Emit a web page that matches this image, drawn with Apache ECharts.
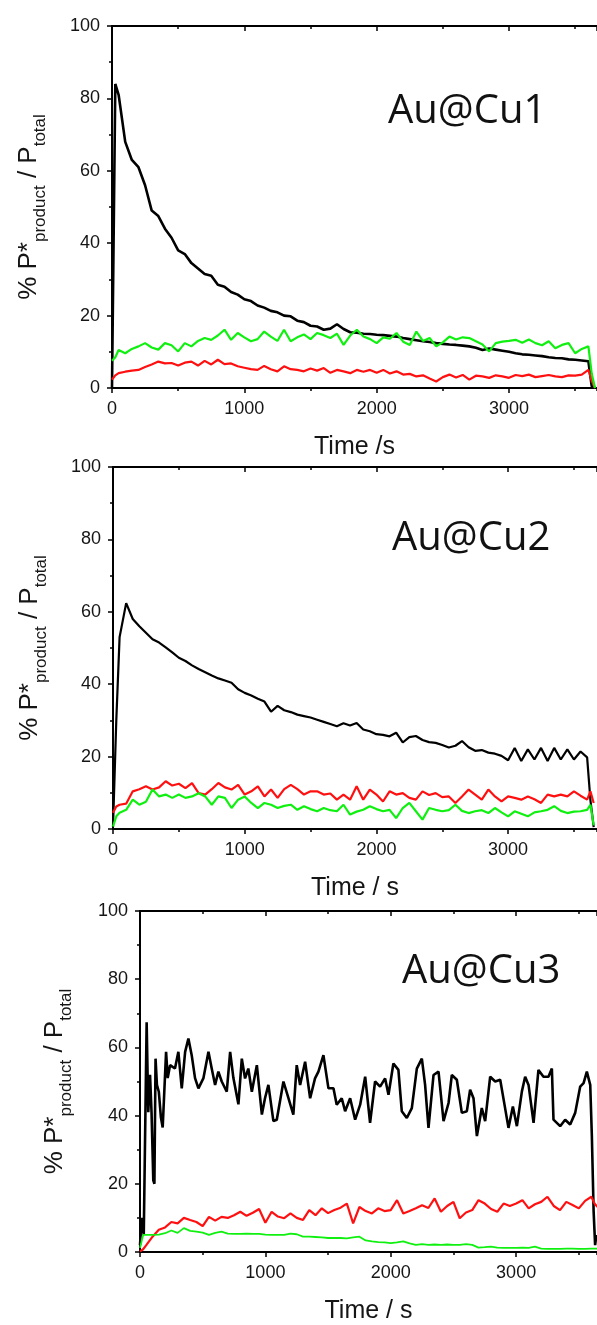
<!DOCTYPE html>
<html>
<head>
<meta charset="utf-8">
<script src="https://cdn.jsdelivr.net/npm/echarts@6/dist/echarts.min.js"></script>
<style>
  html, body { margin: 0; padding: 0; background: #fff; }
  #chart { width: 597px; height: 1325px; }
</style>
</head>
<body>
<div id="chart"></div>
<script>
// ---------- DATA ----------
// common time grid (s)
const time = [0, 25, 50, 100, 150, 200, 250, 300, 350, 400,
  450, 500, 550, 600, 650, 700, 750, 800, 850, 900,
  950, 1000, 1050, 1100, 1150, 1200, 1250, 1300, 1350, 1400,
  1450, 1500, 1550, 1600, 1650, 1700, 1750, 1800, 1850, 1900,
  1950, 2000, 2050, 2100, 2150, 2200, 2250, 2300, 2350, 2400,
  2450, 2500, 2550, 2600, 2650, 2700, 2750, 2800, 2850, 2900,
  2950, 3000, 3050, 3100, 3150, 3200, 3250, 3300, 3350, 3400,
  3450, 3500, 3550, 3600, 3625, 3650];

// Au@Cu1
const cu1Black = [0, 84, 81, 68, 63, 61, 56, 49, 47.5, 44,
  41.5, 38, 37, 34.5, 33, 31.5, 31, 28.5, 28, 26.5,
  25.8, 24.5, 24, 22.8, 22.2, 21.3, 20.9, 20, 19.8, 18.6,
  18.2, 17.2, 17.0, 16.1, 16.4, 17.6, 16.3, 15.4, 15.3, 15.0,
  14.9, 14.7, 14.6, 14.4, 14.2, 13.8, 13.5, 13.2, 12.9, 12.7,
  12.4, 12.2, 12.0, 11.9, 11.7, 11.5, 11.1, 10.5, 10.9, 10.6,
  10.3, 10.0, 9.6, 9.3, 9.2, 9.0, 8.8, 8.5, 8.3, 8.2,
  7.9, 7.8, 7.6, 7.4, 0.5, 0];
const cu1Green = [7.5, 8.5, 10.5, 9.6, 10.8, 11.5, 12.4, 11.2, 10.6, 12.4,
  11.8, 10.1, 12.4, 11.5, 13.0, 13.8, 13.3, 14.5, 16.1, 13.3,
  15.2, 14.0, 12.9, 13.5, 15.6, 14.2, 13.0, 16.1, 12.9, 14.0,
  14.8, 13.5, 15.2, 14.6, 13.8, 15.0, 11.9, 14.5, 16.1, 14.2,
  13.5, 12.4, 14.0, 13.6, 15.2, 12.8, 11.9, 15.6, 13.0, 13.8,
  11.5, 12.6, 14.2, 13.4, 14.0, 13.8, 12.9, 12.0, 10.1, 12.4,
  12.8, 13.0, 13.3, 12.5, 13.4, 12.4, 11.8, 12.9, 11.0, 11.9,
  12.4, 9.6, 10.8, 11.5, 4, 0];
const cu1Red = [2.3, 3.5, 4.1, 4.5, 4.8, 5.0, 5.8, 6.5, 7.3, 6.8,
  6.9, 6.2, 7.0, 7.3, 6.2, 7.5, 6.5, 7.8, 6.6, 6.8,
  6.0, 5.6, 5.2, 5.0, 6.1, 5.2, 4.6, 6.0, 5.2, 5.0,
  4.6, 5.4, 4.8, 5.5, 4.2, 5.0, 4.6, 4.1, 5.0, 4.5,
  5.0, 4.2, 5.0, 4.0, 4.6, 3.7, 3.9, 3.2, 3.5, 2.6,
  1.8, 3.0, 3.7, 2.9, 3.6, 2.3, 3.4, 3.2, 2.8, 3.5,
  3.2, 2.8, 3.6, 3.3, 3.7, 3.0, 3.3, 3.6, 3.2, 3.0,
  3.5, 3.4, 3.7, 5.0, 2, 0];

// Au@Cu2
const cu2Black = [0.5, 30, 53, 62.4, 58, 56, 54.2, 52.4, 51.5, 50.2,
  48.8, 47.3, 46.4, 45.2, 44.2, 43.3, 42.4, 41.6, 41.0, 40.4,
  38.6, 37.6, 36.9, 36.0, 35.2, 32.4, 34.0, 32.8, 32.3, 31.6,
  31.2, 30.8, 30.2, 29.6, 29.0, 28.4, 29.2, 28.6, 29.3, 27.5,
  27.0, 26.2, 26.0, 25.6, 26.6, 23.9, 25.4, 25.7, 24.6, 24.0,
  23.8, 23.2, 22.5, 23.0, 24.3, 22.6, 21.6, 21.8, 21.1, 20.8,
  20.2, 19.0, 22.4, 18.8, 22.0, 19.2, 22.4, 18.8, 22.4, 19.2,
  22.0, 19.2, 21.4, 19.8, 8, 0.5];
const cu2Red = [4.5, 6.2, 6.7, 7.0, 10.4, 11.0, 11.8, 10.9, 11.5, 13.2,
  12.0, 12.5, 11.3, 12.7, 9.9, 9.5, 11.0, 12.7, 11.5, 10.9,
  12.2, 9.5, 10.4, 11.8, 9.0, 10.9, 8.6, 11.0, 12.2, 11.0,
  9.5, 10.4, 10.4, 9.5, 9.8, 8.1, 9.5, 8.1, 11.8, 8.1,
  10.9, 9.5, 7.6, 10.4, 9.5, 9.9, 8.6, 8.1, 10.4, 9.4,
  9.9, 8.8, 9.0, 7.2, 9.0, 10.9, 9.5, 8.1, 10.9, 9.0,
  7.6, 9.0, 8.6, 8.1, 9.0, 8.2, 7.2, 9.5, 9.0, 9.5,
  9.0, 10.4, 9.2, 8.1, 10.4, 7.2];
const cu2Green = [0.7, 3.5, 4.5, 5.3, 8.1, 6.7, 7.5, 10.9, 9.0, 9.5,
  8.6, 9.5, 8.6, 9.0, 9.9, 9.0, 6.7, 9.0, 8.6, 5.8,
  8.1, 9.0, 7.2, 5.8, 7.2, 6.7, 5.8, 6.4, 6.7, 5.3,
  6.3, 5.5, 4.9, 5.8, 5.2, 4.9, 6.7, 4.0, 4.8, 5.3,
  6.3, 5.5, 4.9, 5.3, 3.0, 5.8, 7.2, 4.9, 2.6, 5.8,
  5.3, 4.9, 5.2, 6.7, 5.0, 4.4, 4.9, 5.2, 4.4, 5.8,
  4.6, 3.5, 4.9, 4.2, 3.5, 4.6, 4.9, 5.3, 6.3, 5.0,
  4.4, 4.8, 4.9, 5.3, 6.7, 1.0];

// Au@Cu3
const cu3BlackTime = [0, 14, 30, 53, 66, 80, 92, 106, 115, 124,
  135, 150, 167, 181, 208, 221, 240, 279, 306, 333,
  360, 386, 412, 439, 466, 506, 546, 572, 599, 625,
  652, 692, 719, 745, 785, 812, 838, 864, 892, 932,
  972, 997, 1024, 1064, 1091, 1144, 1184, 1223, 1250, 1277,
  1317, 1357, 1396, 1423, 1463, 1503, 1543, 1569, 1609, 1636,
  1676, 1716, 1756, 1796, 1835, 1875, 1915, 1955, 1982, 2021,
  2061, 2088, 2128, 2168, 2208, 2248, 2274, 2301, 2341, 2381,
  2421, 2461, 2487, 2527, 2567, 2607, 2633, 2660, 2687, 2726,
  2753, 2793, 2833, 2873, 2912, 2939, 2974, 3006, 3046, 3072,
  3099, 3139, 3178, 3218, 3258, 3285, 3298, 3351, 3391, 3431,
  3471, 3511, 3538, 3564, 3591, 3604, 3618, 3630, 3640];
const cu3BlackVal = [2, 10, 5, 67.4, 41, 52, 41, 21, 20, 56.7,
  49, 47, 39.4, 36.5, 58.7, 51, 54.8, 53.8, 58.7, 48,
  58.7, 62.6, 57.8, 51, 48, 51, 58.7, 53.8, 49, 52.9,
  50, 47, 58.7, 51, 43.3, 56.7, 50.9, 53.8, 47, 54.8,
  40.3, 45.1, 49, 38.4, 38.8, 50, 45.1, 40.3, 54.8, 49,
  55.8, 45.1, 50.9, 52.9, 57.7, 48, 48, 43.2, 45.1, 41.3,
  45.1, 38.8, 43.2, 51.4, 37.9, 50, 48.5, 50.9, 46.1, 55.3,
  53.4, 41.3, 39.3, 42.2, 53.8, 56.7, 49, 36.4, 51.9, 52.9,
  38.4, 43.7, 51.9, 50.5, 40.8, 41.3, 47.6, 45.1, 34, 42.2,
  38.4, 51.4, 50, 50.5, 42.2, 36.4, 42.7, 36.9, 47.1, 51.4,
  49, 37.9, 53.4, 51.4, 51.4, 53.8, 38.8, 36.9, 38.8, 37.4,
  40.8, 48.5, 49.5, 52.9, 49, 34, 12, 2, 5];
const cu3Red = [0.2, 0.8, 2.0, 4.5, 6.5, 7.2, 8.8, 8.4, 10.0, 9.4,
  8.8, 7.6, 10.3, 9.2, 10.3, 10.0, 10.8, 11.8, 10.6, 11.5,
  12.6, 8.6, 11.8, 10.4, 9.9, 11.3, 10.0, 9.4, 12.3, 10.8,
  12.8, 11.4, 12.3, 13.0, 14.2, 8.4, 13.2, 12.0, 11.3, 12.8,
  12.0, 12.3, 15.2, 11.3, 12.0, 12.8, 13.7, 12.9, 15.7, 11.8,
  13.5, 14.7, 9.9, 11.6, 12.3, 15.2, 14.2, 12.6, 11.8, 14.2,
  13.5, 14.2, 15.2, 12.8, 14.0, 14.7, 16.2, 13.5, 12.3, 14.7,
  13.8, 12.8, 15.0, 16.2, 14.2, 13.2];
const cu3Green = [1.2, 5.0, 5.0, 5.0, 5.1, 5.5, 6.3, 5.6, 7.0, 6.2,
  6.0, 5.7, 5.0, 5.6, 6.0, 5.4, 5.3, 5.3, 5.4, 5.3,
  5.3, 5.1, 5.0, 5.0, 5.0, 5.4, 5.2, 4.5, 4.5, 4.4,
  4.3, 4.1, 4.1, 4.1, 4.0, 4.3, 4.5, 3.4, 3.1, 2.9,
  2.8, 2.6, 2.8, 3.1, 2.5, 2.1, 2.3, 2.1, 2.2, 2.1,
  2.2, 2.1, 2.1, 2.3, 2.1, 1.3, 1.4, 1.6, 1.3, 1.2,
  1.2, 1.2, 1.3, 1.2, 1.6, 1.0, 0.9, 0.9, 0.9, 1.0,
  1.0, 0.9, 0.9, 1.0, 1.0, 1.0];

const panelTitles = ['Au@Cu1', 'Au@Cu2', 'Au@Cu3'];
const xAxisTitles = ['Time /s', 'Time / s', 'Time / s'];
const yAxisTitle = '{m|% P*}{s|product}{m| / P}{s|total}';
const xMaxes = [3665, 3675, 3645];

// ---------- LAYOUT ----------
const grids = [
  { left: 112, top: 26, width: 486, height: 362 },
  { left: 113, top: 467, width: 485, height: 362 },
  { left: 140, top: 911, width: 458, height: 345 }
];
const titlePos = [[388, 92], [392, 519], [402, 952]];
const yNameGap = [66, 66, 68];

const FONT = '"Liberation Sans", Arial, sans-serif';
const TXT = '#151515';

const pair = (xs, ys) => xs.map((t, i) => [t, ys[i]]);
const panelSeries = [
  [[time, cu1Black, '#000000', 2.6], [time, cu1Red, '#ff1010', 2.2], [time, cu1Green, '#10f010', 2.2]],
  [[time, cu2Black, '#000000', 2.2], [time, cu2Red, '#ff1010', 2.2], [time, cu2Green, '#10f010', 2.2]],
  [[cu3BlackTime, cu3BlackVal, '#000000', 2.6], [time, cu3Red, '#ff1010', 2.2], [time, cu3Green, '#10f010', 1.8]]
];

const xAxes = [], yAxes = [], series = [], graphics = [];
grids.forEach((g, gi) => {
  const base = { type: 'value', gridIndex: gi, min: 0, max: xMaxes[gi], splitLine: { show: false } };
  const lineStyle = { color: '#000', width: 2 };
  // bottom major
  xAxes.push(Object.assign({}, base, {
    position: 'bottom', interval: 1000,
    axisLine: { show: true, lineStyle },
    axisTick: { show: true, inside: false, length: 5, lineStyle: { width: 1.5, color: '#000' } },
    axisLabel: { show: true, showMaxLabel: false, margin: 12, fontSize: 18, fontFamily: FONT, color: TXT,
      formatter: v => String(v) },
    name: xAxisTitles[gi], nameLocation: 'middle', nameGap: 47,
    nameTextStyle: { fontSize: 25, fontFamily: FONT, color: TXT }
  }));
  // bottom minor
  xAxes.push(Object.assign({}, base, {
    position: 'bottom', interval: 500,
    axisLine: { show: false },
    axisTick: { show: true, inside: false, length: 3, lineStyle: { width: 1.5, color: '#000' } },
    axisLabel: { show: false }
  }));
  // top major
  xAxes.push(Object.assign({}, base, {
    position: 'top', interval: 1000,
    axisLine: { show: true, lineStyle },
    axisTick: { show: true, inside: true, length: 5, lineStyle: { width: 1.5, color: '#000' } },
    axisLabel: { show: false }
  }));
  // top minor
  xAxes.push(Object.assign({}, base, {
    position: 'top', interval: 500,
    axisLine: { show: false },
    axisTick: { show: true, inside: true, length: 3, lineStyle: { width: 1.5, color: '#000' } },
    axisLabel: { show: false }
  }));
  const ybase = { type: 'value', gridIndex: gi, min: 0, max: 100, interval: 20, splitLine: { show: false } };
  yAxes.push(Object.assign({}, ybase, {
    position: 'left',
    axisLine: { show: true, lineStyle },
    axisTick: { show: true, inside: false, length: 5, lineStyle: { width: 1.5, color: '#000' } },
    minorTick: { show: true, splitNumber: 2, length: 3, lineStyle: { width: 1.5, color: '#000' } },
    axisLabel: { show: true, margin: 12, fontSize: 18, fontFamily: FONT, color: TXT },
    name: yAxisTitle, nameLocation: 'middle', nameGap: yNameGap[gi], nameRotate: 90,
    nameTextStyle: {
      color: TXT,
      rich: {
        m: { fontSize: 26, fontFamily: FONT, color: TXT, lineHeight: 30, verticalAlign: 'top' },
        s: { fontSize: 17, fontFamily: FONT, color: TXT, lineHeight: 17, padding: [16, 0, 0, 0], verticalAlign: 'top' }
      }
    }
  }));
  yAxes.push(Object.assign({}, ybase, {
    position: 'right',
    axisLine: { show: true, lineStyle },
    axisTick: { show: true, inside: true, length: 5, lineStyle: { width: 1.5, color: '#000' } },
    minorTick: { show: true, splitNumber: 2, length: 3, lineStyle: { width: 1.5, color: '#000' } },
    axisLabel: { show: false }
  }));
  panelSeries[gi].forEach(([xs, ys, color, w]) => {
    series.push({
      type: 'line', xAxisIndex: gi * 4, yAxisIndex: gi * 2,
      data: pair(xs, ys), showSymbol: false, symbol: 'none',
      lineStyle: { color, width: w }, itemStyle: { color },
      clip: true, animation: false, silent: true
    });
  });
  graphics.push({
    type: 'text', left: titlePos[gi][0], top: titlePos[gi][1],
    style: { text: panelTitles[gi], font: '40px "Open Sans"', fill: '#111' }
  });
});

const chart = echarts.init(document.getElementById('chart'), null, { renderer: 'canvas' });
chart.setOption({
  animation: false,
  backgroundColor: '#ffffff',
  grid: grids.map(g => Object.assign({ containLabel: false }, g)),
  xAxis: xAxes,
  yAxis: yAxes,
  series,
  graphic: graphics
});
</script>
</body>
</html>
